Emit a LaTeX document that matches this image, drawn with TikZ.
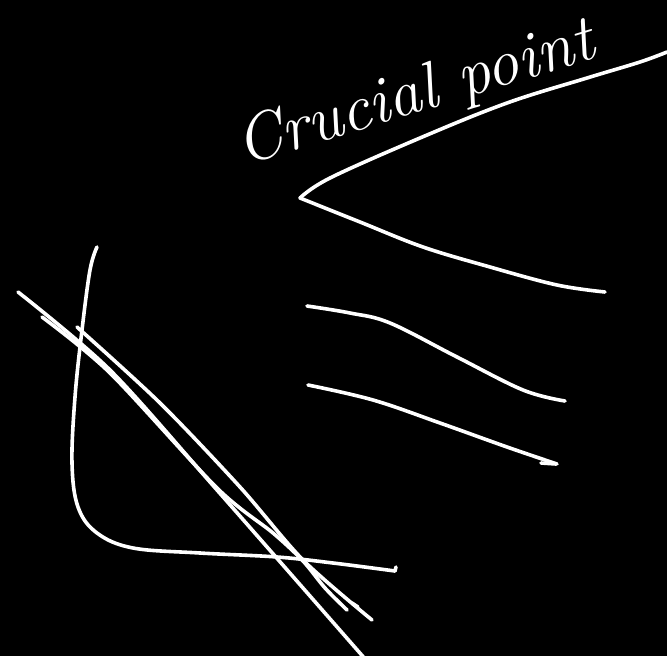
\documentclass[tikz,border=0pt]{standalone}
\begin{document}
\begin{tikzpicture}[x=1pt,y=-1pt,
  pen/.style={white, line width=3.6pt, line cap=round, line join=round},
  handtext/.style={white, font=\fontsize{66}{76}\selectfont\itshape}]
\fill[black] (0,0) rectangle (667,656);
\useasboundingbox (0,0) rectangle (667,656);
% title
\node[handtext, rotate=17, anchor=base west, inner sep=0pt] (title) at (243,166) {Crucial point};
% V shape
\coordinate (v) at (300,198);
\draw[pen] plot[smooth, tension=0.6] coordinates {(v) (330,178) (420,138) (507,103) (587,78) (640,62) (667,52)};
\draw[pen] plot[smooth, tension=0.6] coordinates {(v) (360,222) (423,247) (490,267) (557,285) (605,292)};
% two lines
\draw[pen] plot[smooth, tension=0.6] coordinates {(307,306) (350,313) (390,323) (457,357) (523,390) (565,401)};
\draw[pen] plot[smooth, tension=0.6] coordinates {(308,385) (373,400) (440,423) (507,447) (557,464)};
\draw[pen] (541,463) -- (556,464);
% axes curve
\draw[pen] plot[smooth, tension=0.6] coordinates {(97,247) (90,270) (82,330) (75,397) (72,463) (78,507) (97,533) (133,548) (200,553) (277,557) (333,563) (395,571)};
\draw[pen] (395,571) -- (396,567);
% diagonal lines
\draw[pen] plot[smooth, tension=0.5] coordinates {(18,292) (110,370) (217,490) (366,660)};
\draw[pen] plot[smooth, tension=0.5] coordinates {(42,317) (110,373) (217,488) (273,533) (303,561) (325,588) (347,610)};
\draw[pen] plot[smooth, tension=0.5] coordinates {(77,327) (160,403) (240,487) (303,560) (372,620)};
\draw[pen] (352,603) -- (358,607);
\end{tikzpicture}
\end{document}
